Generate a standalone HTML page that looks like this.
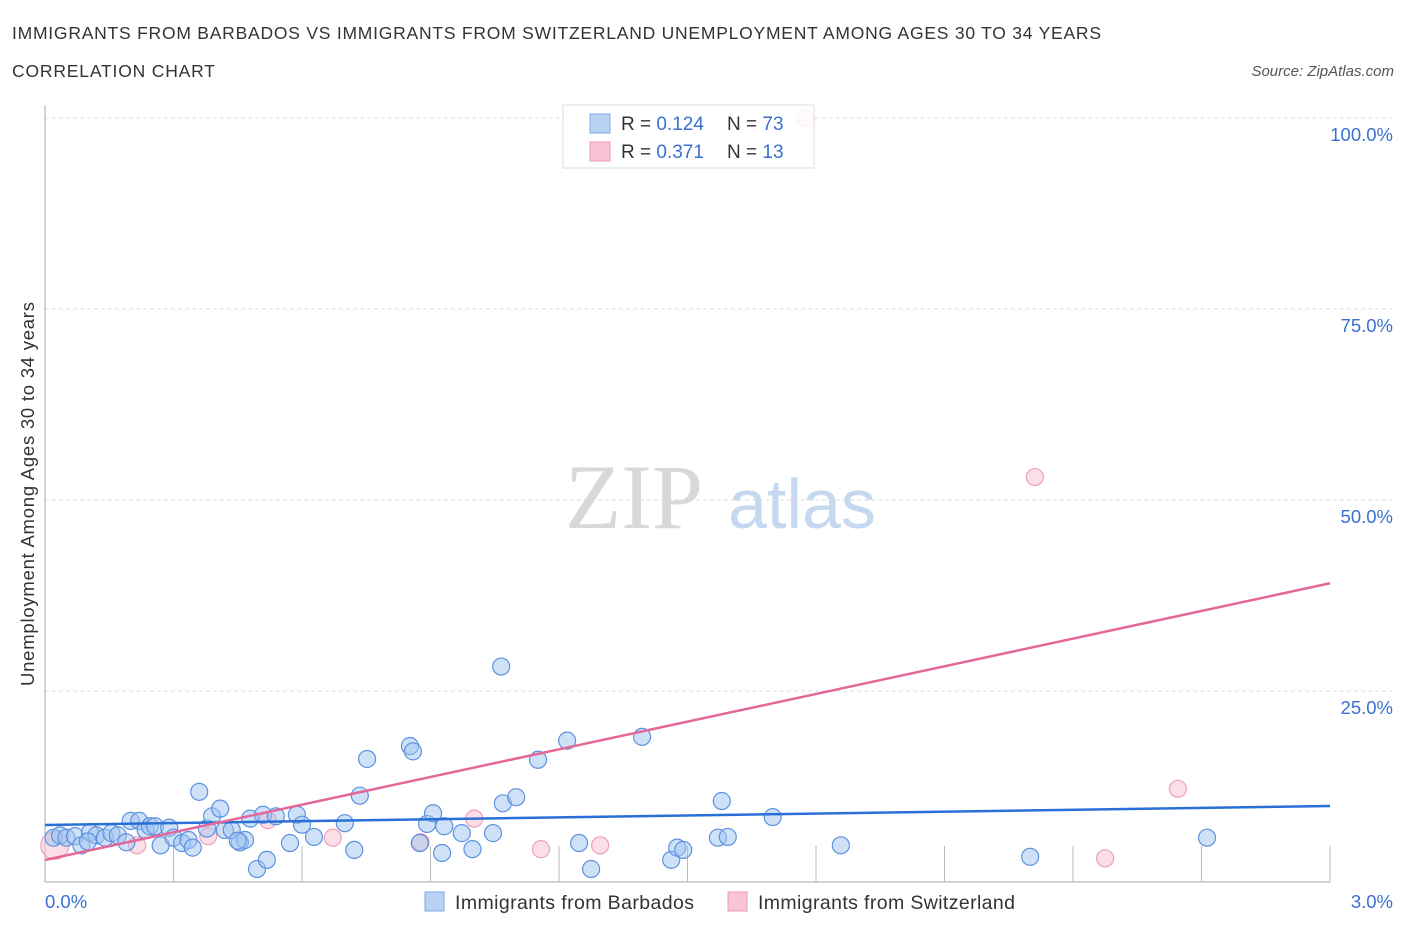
<!DOCTYPE html>
<html><head><meta charset="utf-8"><style>
body{margin:0;background:#fff;font-family:"Liberation Sans",sans-serif}
svg{display:block}
</style></head><body>
<svg id="chart" width="1406" height="930">
<text x="12" y="39" font-size="17.5" fill="#333" textLength="1089">IMMIGRANTS FROM BARBADOS VS IMMIGRANTS FROM SWITZERLAND UNEMPLOYMENT AMONG AGES 30 TO 34 YEARS</text>
<text x="12" y="77" font-size="17.5" fill="#333" textLength="203">CORRELATION CHART</text>
<text x="1394" y="76" font-size="15" fill="#555" font-style="italic" text-anchor="end">Source: ZipAtlas.com</text>
<text x="634" y="528" font-size="92" fill="#d8d8d8" font-family="Liberation Serif,serif" text-anchor="middle">ZIP</text>
<text x="802" y="528" font-size="70" fill="#c5d8f0" text-anchor="middle">atlas</text>
<text transform="translate(34,494) rotate(-90)" font-size="18.5" fill="#333" text-anchor="middle" textLength="384">Unemployment Among Ages 30 to 34 years</text>
<g id="grid"></g><g id="marks"></g>
<g>
<rect x="563" y="105" width="251" height="63" fill="#fff" fill-opacity="0.85" stroke="#ddd"/>
<rect x="590" y="114" width="20" height="19" fill="#b8d2f4" stroke="#7ea8e6"/>
<rect x="590" y="142" width="20" height="19" fill="#f9c5d4" stroke="#eb9ab2"/>
<text x="621" y="130" font-size="19" fill="#333">R = <tspan fill="#3a70d0">0.124</tspan></text>
<text x="727" y="130" font-size="19" fill="#333">N = <tspan fill="#3a70d0">73</tspan></text>
<text x="621" y="158" font-size="19" fill="#333">R = <tspan fill="#3a70d0">0.371</tspan></text>
<text x="727" y="158" font-size="19" fill="#333">N = <tspan fill="#3a70d0"> 13</tspan></text>
</g>
<g>
<rect x="425" y="892" width="19" height="19" fill="#b8d2f4" stroke="#7ea8e6"/>
<text x="455" y="909" font-size="19.5" fill="#333" textLength="239">Immigrants from Barbados</text>
<rect x="728" y="892" width="19" height="19" fill="#f9c5d4" stroke="#eb9ab2"/>
<text x="758" y="909" font-size="19.5" fill="#333" textLength="257">Immigrants from Switzerland</text>
</g>
</svg>
<script>
const blueX=[0.02,0.035,0.05,0.07,0.085,0.105,0.12,0.14,0.155,0.17,0.19,0.2,0.22,0.235,0.245,0.257,0.27,0.29,0.3,0.32,0.335,0.345,0.36,0.378,0.39,0.409,0.42,0.436,0.455,0.467,0.479,0.495,0.509,0.518,0.539,0.572,0.588,0.6,0.628,0.7,0.722,0.735,0.752,0.852,0.859,0.875,0.892,0.906,0.927,0.932,0.973,0.998,1.046,1.065,1.069,1.1,1.151,1.219,1.247,1.275,1.394,1.462,1.476,1.49,1.571,1.58,1.594,1.699,1.858,2.3,2.713,0.1,0.45];
const blueY=[5.8,6.1,5.8,6.0,4.8,6.5,6.1,5.8,6.4,6.1,5.2,8.0,8.0,6.8,7.3,7.3,4.8,7.1,5.8,5.1,5.5,4.5,11.8,7.0,8.6,9.6,6.8,6.8,5.2,5.5,8.3,1.7,8.8,2.9,8.6,5.1,8.8,7.5,5.9,7.7,4.2,11.3,16.1,17.8,17.1,5.1,7.6,9.0,3.8,7.3,6.4,4.3,6.4,28.2,10.3,11.1,16.0,18.5,5.1,1.7,19.0,2.9,4.5,4.2,5.8,10.6,5.9,8.5,4.8,3.3,5.8,5.3,5.4];
const pinkX=[0.023,0.215,0.381,0.52,0.672,0.877,1.002,1.158,1.296,1.776,2.311,2.475,2.645];
const pinkY=[4.8,4.8,6.0,8.1,5.8,5.2,8.3,4.3,4.8,100.0,53.0,3.1,12.2];
const blueTrend=[7.46,9.95];
const pinkTrend=[2.88,39.1];
const yTicks=[25,50,75,100];
const xTickLabels=["0.0%","3.0%"];
const NS="http://www.w3.org/2000/svg";
const X0=45,X1=1330,Y0=882,PPY=7.64;
function sx(v){return X0+(v/3)*(X1-X0);}
function sy(v){return Y0-v*PPY;}
function mk(tag,attrs,parent){const e=document.createElementNS(NS,tag);for(const k in attrs)e.setAttribute(k,attrs[k]);parent.appendChild(e);return e;}
const grid=document.getElementById('grid'),marks=document.getElementById('marks');
yTicks.forEach(t=>{
 const l=mk('line',{x1:45,x2:1394,y1:sy(t),y2:sy(t),stroke:'#ddd','stroke-dasharray':'4,3'},grid);
 
 
 const tx=mk('text',{x:1393,y:sy(t)+23,'font-size':18.5,fill:'#3a70d0','text-anchor':'end'},grid);
 tx.textContent=t.toFixed(1)+'%';
 
 
});
const ax=mk('line',{x1:45,x2:45,y1:105,y2:882,stroke:'#aaa'},grid);


const bx=mk('line',{x1:45,x2:1330,y1:882,y2:882,stroke:'#aaa'},grid);


for(let i=1;i<=10;i++){const t=mk('line',{x1:sx(i*0.3),x2:sx(i*0.3),y1:846,y2:882,stroke:'#bbb'},grid);
 
 }
const xl0=mk('text',{x:45,y:908,'font-size':18.5,fill:'#3a70d0'},grid);xl0.textContent=xTickLabels[0];


const xl1=mk('text',{x:1393,y:908,'font-size':18.5,fill:'#3a70d0','text-anchor':'end'},grid);xl1.textContent=xTickLabels[1];


pinkX.forEach((v,i)=>{const c=mk('circle',{cx:sx(v),cy:sy(pinkY[i]),r:i==0?14:8.5,fill:'rgba(249,190,208,0.5)',stroke:'#eea0b8','stroke-width':1.2},marks);
 
 });
blueX.forEach((v,i)=>{const c=mk('circle',{cx:sx(v),cy:sy(blueY[i]),r:8.5,fill:'rgba(160,196,240,0.5)',stroke:'#5d92e0','stroke-width':1.2},marks);
 
 });
const bl=mk('line',{x1:sx(0),y1:sy(blueTrend[0]),x2:sx(3),y2:sy(blueTrend[1]),stroke:'#2a6fd6','stroke-width':2.5},marks);


const pl=mk('line',{x1:sx(0),y1:sy(pinkTrend[0]),x2:sx(3),y2:sy(pinkTrend[1]),stroke:'#e4679a','stroke-width':2.5},marks);


</script>
</body></html>
